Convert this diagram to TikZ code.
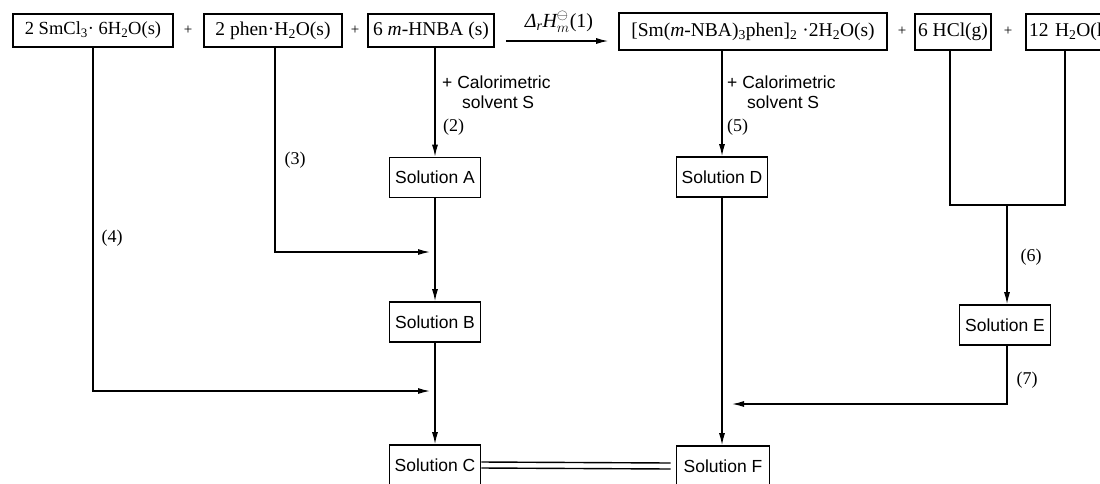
\documentclass[tikz,border=0pt]{standalone}
\usepackage{fontspec}
\setmainfont{Liberation Serif}
\setsansfont{Liberation Sans}
\usetikzlibrary{arrows.meta,calc}
\begin{document}
\begin{tikzpicture}[x=1pt,y=-1pt,
 box/.style={draw,line width=1.6pt,inner sep=0pt,minimum height=33pt,font=\fontsize{19.5}{21}\selectfont},
 sol/.style={draw,line width=1.6pt,inner sep=0pt,minimum width=91pt,minimum height=40pt,font=\sffamily\fontsize{17.5}{19}\selectfont},
 arr/.style={line width=1.3pt,-{Latex[length=12pt,width=6pt]}},
 ln/.style={line width=1.4pt},
 lbl/.style={font=\fontsize{18}{20}\selectfont,inner sep=0pt},
 slbl/.style={font=\sffamily\fontsize{17.5}{19}\selectfont,inner sep=0pt,anchor=west},
 plus/.style={font=\fontsize{15}{17}\selectfont,inner sep=0pt}
]
\useasboundingbox (0,0) rectangle (1100,483);
\clip (0,0) rectangle (1100,483);
% top row
\node[box,minimum width=160pt,font=\fontsize{18.5}{20}\selectfont] (b1) at (93,30.5) {2 SmCl\textsubscript{3}· 6H\textsubscript{2}O(s)\hspace{6pt}};
\node[plus] (p1) at (188,30) {+};
\node[box,minimum width=138pt] (b2) at (273,30.5) {2 phen·H\textsubscript{2}O(s)};
\node[plus] (p2) at (355,30) {+};
\node[box,minimum width=126pt] (b3) at (431,30.5) {6 \textit{m}-HNBA (s)};
\node[box,minimum width=268pt,minimum height=37pt] (b4) at (753,31.5) {[Sm(\textit{m}-NBA)\textsubscript{3}phen]\textsubscript{2} ·2H\textsubscript{2}O(s)};
\node[plus] (p3) at (902,31) {+};
\node[box,minimum width=76pt,minimum height=36pt] (b5) at (953,32) {6 HCl(g)};
\node[plus] (p4) at (1008,31) {+};
\node[box,minimum height=36pt,text width=98pt,inner xsep=3pt,align=left] (b6) at (1078,32) {12 H\textsubscript{2}O(l)};
% reaction arrow
\coordinate (ra) at ([xshift=11pt,yshift=-10.5pt]b3.east);
\draw[arr] (ra) -- ([xshift=-10pt]ra -| b4.west);
\node[lbl,font=\fontsize{20}{22}\selectfont] (dh) at (559,22) {{\itshape Δ}\textsubscript{\itshape r}{\itshape H}$^{\ominus}_{m}$(1)};
% solutions
\node[sol] (SA) at (435,177.5) {Solution A};
\node[sol] (SB) at (435,322) {Solution B};
\node[sol] (SC) at (435,465) {Solution C};
\node[sol] (SD) at (722,177) {Solution D};
\node[sol] (SE) at (1005,325) {Solution E};
\node[sol,minimum width=93pt] (SF) at (723,466) {Solution F};
% coordinates
\coordinate (j1) at (275,252);
\coordinate (j2) at (93,391);
\coordinate (m1) at (950,205);
\coordinate (m2) at (1065,205);
\coordinate (m3) at (1007,205);
\coordinate (e1) at (1007,404);
% connectors
\draw[arr] (b3.south -| SA) -- (SA.north);
\draw[arr] (SA.south) -- (SB.north);
\draw[arr] (SB.south) -- (SC.north);
\draw[arr] (b2.south -| j1) -- (j1) -- ([xshift=-5pt]j1 -| SA);
\draw[arr] (b1.south -| j2) -- (j2) -- ([xshift=-5pt]j2 -| SC);
\draw[arr] (b4.south -| SD) -- (SD.north);
\draw[arr] (SD.south) -- (SD.south |- SF.north);
\draw[ln] (b5.south -| m1) -- (m1) -- (m2) -- (b6.south -| m2);
\draw[arr] (m3) -- (m3 |- SE.north);
\draw[arr] (SE.south -| e1) -- (e1) -- ([xshift=10pt]e1 -| SD);
\draw[ln] ([yshift=3pt]SC.east) -- ([yshift=3pt,xshift=-5pt]SF.west);
\draw[ln] ([yshift=-3pt]SC.east) -- ([yshift=-3pt,xshift=-5pt]SF.west);
% labels
\node[slbl] (c1) at (442,82) {+ Calorimetric};
\node[slbl] (s1) at (462,102) {solvent S};
\node[lbl,anchor=west] (l2) at (443,127) {(2)};
\node[slbl] (c2) at (727,82) {+ Calorimetric};
\node[slbl] (s2) at (747,102) {solvent S};
\node[lbl,anchor=west] (l5) at (727,127) {(5)};
\node[lbl] (l3) at (295,160) {(3)};
\node[lbl] (l4) at (112,238) {(4)};
\node[lbl] (l6) at (1031,257) {(6)};
\node[lbl] (l7) at (1027,380) {(7)};
\end{tikzpicture}
\end{document}
